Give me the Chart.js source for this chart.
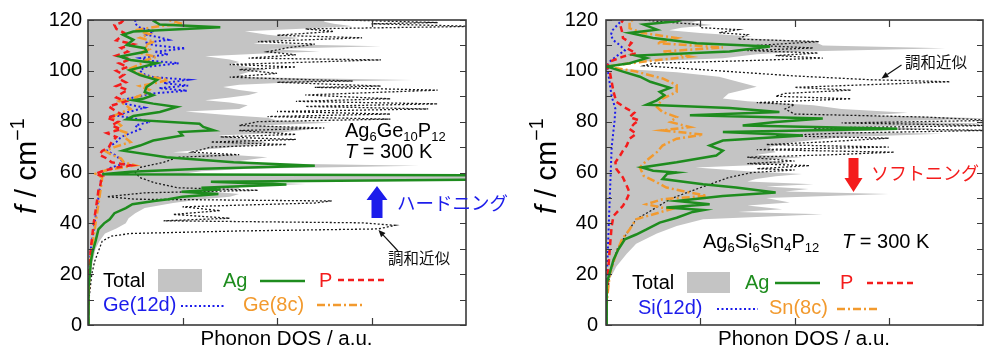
<!DOCTYPE html>
<html><head><meta charset="utf-8">
<script src="https://cdn.jsdelivr.net/npm/chart.js@4"></script>
<style>
html,body{margin:0;padding:0;background:#fff;}
#wrap{position:relative;width:984px;height:347px;overflow:hidden;background:#fff;}
canvas{position:absolute;top:0;}
#c1{left:0;}
#c2{left:490px;}
</style></head><body>
<div id="wrap">
<canvas id="c1" width="530" height="347"></canvas>
<canvas id="c2" width="494" height="347"></canvas>
</div>
<script>
// ---------- tick / axis text ----------
const xAxisTitle = 'Phonon DOS / a.u.';
const yMinorTicks = [0,10,20,30,40,50,60,70,80,90,100,110,120];
const xTickMarks = [1,2,3];

// ---------- Ag6Ge10P12 panel (frequency f / cm-1 , DOS in a.u.) ----------
const geTotalF = [0,10,15,20,25,30,33,36,38,40,42,44,46,48,49.5,50.5,51.5,52.5,53.3,54.3,55.5,56.4,57.2,58.9,59.5,60.5,61.5,62.7,63.6,64.5,66,67,68,69.5,70.5,72,73,74.6,75.5,77.4,78.5,79.6,80.5,81.5,82.5,84,85,86.5,87.5,88.4,89.5,90.5,91.5,92.5,93.6,94.5,95.5,96.4,97.5,98.5,99.5,100.5,101.5,102.5,103.5,104.5,105.7,106.7,107.6,108.6,109.7,110.7,111.5,112.9,114.2,115.6,116.5,117.5,118.5,119.3,120];
const geTotalV = [0,0.01,0.02,0.03,0.05,0.08,0.12,0.18,0.3,0.4,0.43,0.5,0.6,0.9,1.2,1.5,1.6,1.3,1.6,1.6,2.3,1.7,4.3,4.3,1.0,1.2,1.7,3.5,1.8,1.6,1.9,1.5,0.9,1.4,1.7,1.9,1.7,1.38,2.0,2.43,1.8,2.58,2.0,1.9,1.5,1.03,1.6,1.69,1.5,1.24,1.5,1.7,1.8,1.6,1.43,1.6,2.2,3.43,1.7,1.6,1.7,1.9,1.7,1.5,1.6,1.5,1.24,1.8,2.45,1.9,3.1,1.75,1.9,2.24,1.9,1.66,2.2,2.8,2.6,2.5,2.5];

const geAgF = [0,5,10,15,20,25,29,33,37.6,40,41.6,44,46,47.5,48.8,49.5,50.5,51.5,52.4,53.3,54,55.3,56.4,57.2,58.9,59.3,60.3,61.5,62.7,64,66,68.6,70.6,72.6,74.6,75.9,76.6,77.9,79.2,80.9,82.2,83.8,85.8,87.1,88.4,89.1,90.4,91.7,93.7,96.4,98.3,100.3,103,104.3,105.6,107.6,108.9,110.2,112.2,114.2,115.5,117.1,118.2,119.5,120];
const geAgV = [0,0.003,0.006,0.01,0.02,0.03,0.05,0.08,0.11,0.17,0.23,0.28,0.4,0.47,0.7,0.85,1.0,1.38,0.99,1.4,1.2,2.1,1.3,4.3,4.3,0.15,0.45,1.2,2.4,1.54,0.83,0.37,0.55,0.69,1.0,0.97,1.33,1.22,1.18,0.41,0.48,0.76,0.94,0.69,0.48,0.59,0.69,0.6,0.62,0.73,0.55,0.44,0.73,0.45,0.34,0.62,0.6,0.41,0.48,0.37,0.48,1.4,0.76,0.7,0.72];

const gePF = [0,10,20,30,40,45,50,53,55,57,58.5,59.5,60.5,62,62.8,64,65.5,67,68.5,70,72,74,75.5,77,78.5,80,81.5,83,84.5,86,88,89.5,91,92.5,94,95.5,97,98.5,100,101.5,103,104.5,106,107.5,109,110.5,112,113.5,115,116.5,118,119,120];
const gePV = [0,0.005,0.01,0.03,0.06,0.08,0.1,0.11,0.13,0.14,0.16,0.08,0.15,0.3,0.45,0.25,0.2,0.12,0.15,0.22,0.25,0.3,0.2,0.35,0.25,0.32,0.2,0.35,0.28,0.22,0.4,0.3,0.35,0.42,0.3,0.4,0.32,0.38,0.3,0.42,0.33,0.45,0.3,0.42,0.35,0.48,0.3,0.35,0.38,0.3,0.28,0.35,0.38];

const ge12dF = [0,10,20,30,40,45,50,55,58,60,62,63.5,65,67,68.5,70,72,74,75.5,77,78.5,80,81.5,82.5,84,85.5,87,88.5,90,91,92.2,93.2,94.2,95.2,96.5,97.5,98.5,100,101.5,103,104,105,106.5,107.5,108.8,110,111,112.2,113.2,114.2,115.5,117,118.5,120];
const ge12dV = [0,0.005,0.01,0.03,0.07,0.09,0.11,0.13,0.14,0.15,0.25,0.38,0.35,0.28,0.2,0.22,0.3,0.35,0.45,0.55,0.5,0.66,0.45,0.28,0.45,0.6,0.4,0.35,0.55,0.65,1.05,0.75,1.06,0.8,1.06,0.7,0.6,0.55,0.6,0.96,0.65,0.55,0.85,0.7,1.03,0.72,0.6,0.85,0.75,0.62,0.7,0.55,0.5,0.5];

const ge8cF = [0,10,20,30,40,45,50,55,58,59.5,61,62.8,64,65.5,67,68.5,70,72,74,75.5,77,78.5,80,82,83.5,85,86.5,88,89.5,91,92.5,94,95.5,96.5,98,99.5,101,102.5,104,105.5,107,108.5,110,111.5,113,114.5,116,117.5,118.5,119.5,120];
const ge8cV = [0,0.005,0.015,0.04,0.08,0.1,0.12,0.14,0.15,0.08,0.2,0.5,0.38,0.35,0.25,0.18,0.28,0.45,0.38,0.42,0.3,0.35,0.3,0.25,0.35,0.45,0.4,0.33,0.5,0.6,0.65,0.55,0.75,0.85,0.6,0.5,0.45,0.55,0.6,0.72,0.55,0.65,0.6,0.7,0.55,0.65,0.5,0.75,1.0,0.9,0.85];

const geHarmF = [0,10,20,25,30,33,35,36,37,37.8,39.2,40.2,41,42,43.5,45,46.5,48,48.8,49.5,50.5,52,53,54,56,58,60,62,64,66,67,68,70,71,72,73,74,75,76.5,77.5,78.5,80,81,82,83,84,85,86,87,88,89,90.5,92.4,93.5,94,95.5,96,97.5,99,100.5,101.5,102.5,104.3,105,106.3,107.5,109,110.5,111.5,113,114,115.5,116.5,117.5,118.5,119,120];
const geHarmV = [0,0.01,0.04,0.07,0.12,0.15,0.25,0.45,1.6,3.07,3.25,2.9,0.8,1.5,0.9,1.4,1.0,2.4,2.58,0.5,0.2,0.6,1.8,0.95,0.7,0.55,0.5,0.55,0.8,0.95,1.6,1.1,1.3,2.1,1.3,2.2,1.4,2.2,1.6,2.5,1.6,1.8,3.2,1.9,3.2,2.0,3.6,2.3,3.7,2.2,3.2,2.3,3.7,2.4,3.1,2.0,2.8,1.5,2.0,1.6,2.2,1.5,3.1,1.7,2.2,1.9,2.1,2.4,1.8,2.9,2.0,2.6,2.3,4.1,3.0,3.7,2.7];

// ---------- Ag6Si6Sn4P12 panel ----------
const snTotalF = [0,10,18,23,28,32,36,39,41.6,43.6,44.5,45.5,47,48.2,50,51.5,52.5,53.5,54.5,55.4,56.5,57.4,58.5,59.4,60.5,62,63.4,65,66,67,68,70,72,73.9,75.2,76,77.2,78,79.2,80.2,81.2,82.5,83.5,85,86.5,88,89.1,91.1,93.7,95.7,97.7,99.4,101,102,103,103.6,105,106.5,107.6,108.9,110,111.6,112.9,113.5,114.9,116,117,118,119,120];
const snTotalV = [0,0.01,0.04,0.11,0.22,0.32,0.54,0.75,1.03,2.3,1.4,1.87,1.5,1.95,1.7,3.0,1.9,2.15,1.7,2.2,1.5,1.59,1.8,2.08,1.5,0.95,1.94,1.7,2.08,1.6,1.8,1.73,2.0,2.5,3.57,2.5,3.5,2.8,4.1,3.0,4.1,2.8,3.2,2.5,2.2,1.5,1.24,1.3,1.6,1.4,1.2,0.75,0.08,0.02,0.2,0.36,1.24,1.6,2.08,3.6,2.3,2.2,1.4,1.55,1.0,0.67,0.8,1.13,0.9,1.03];

const snAgF = [0,10,16.5,20.5,25.7,29.7,33.7,35.6,37.6,40.3,42.2,44.5,45.2,46.2,47.5,48.8,50.8,52.1,54.1,55.4,57.4,59.5,60,60.7,62,64,66.7,68.6,70.6,72.6,74.6,75.9,77.2,78.5,79.9,81.2,82.5,83.8,85.4,86.7,88.4,90.4,91.7,93.3,95.7,97.7,99.7,101.7,103,105,106,107.6,109.6,110.9,112.9,114.9,116.2,118.2,119.5,120];
const snAgV = [0,0.005,0.01,0.04,0.08,0.13,0.2,0.32,0.43,0.57,0.75,0.92,1.03,0.64,1.1,0.75,1.24,1.8,1.38,1.03,0.6,0.65,0.75,0.5,0.38,0.75,1.17,1.24,1.1,1.24,2.09,1.24,3.09,1.45,1.8,2.3,0.89,1.84,1.31,0.43,0.54,0.62,0.57,0.68,0.47,0.36,0.18,0.01,0.25,0.43,0.32,1.31,1.74,0.96,0.5,0.25,0.54,0.4,0.75,0.8];

const snPF = [0,10,20,30,38.9,42.9,46.9,49.5,52.1,54.8,58,61.4,64,66.7,68.6,70.6,73.3,75.2,77.2,79.2,80.5,81.8,83.5,85.1,87.8,91.7,95.7,99.7,101.7,103.6,105.6,106.9,108.9,110.9,112.9,115.5,118.2,120];
const snPV = [0,0.005,0.02,0.04,0.06,0.08,0.18,0.22,0.25,0.22,0.18,0.11,0.1,0.15,0.18,0.22,0.25,0.32,0.25,0.3,0.35,0.25,0.3,0.22,0.11,0.08,0.06,0.04,0.01,0.04,0.18,0.32,0.22,0.27,0.18,0.17,0.15,0.18];

const si12dF = [0,20,40,50,60,70,80,85,90,95,100,102,104,106,108,110,112,114,116,118,120];
const si12dV = [0,0.01,0.03,0.04,0.05,0.06,0.09,0.1,0.06,0.04,0.02,0.01,0.05,0.12,0.2,0.15,0.08,0.05,0.07,0.12,0.17];

const sn8cF = [0,10,20,28.4,33.7,37.6,41.6,45.5,47.5,49.5,50.8,52.8,54.1,56.1,58.7,62,64.7,68,70.6,73.3,74.9,76.6,77.9,79.9,81.8,83.8,85.8,89.1,91.7,94.4,97,99.7,101.7,103.6,105.6,107.6,109.2,110.9,112.9,114.9,116.8,119.5,120];
const sn8cV = [0,0.01,0.04,0.11,0.17,0.25,0.32,0.68,0.43,0.6,1.07,0.8,0.64,0.54,0.4,0.36,0.43,0.54,0.6,0.75,1.03,0.6,0.89,0.68,0.75,0.6,0.54,0.6,0.75,0.75,0.6,0.32,0.01,0.39,0.89,0.6,1.24,0.54,0.75,0.39,0.25,0.25,0.29];

const snHarmF = [0,10,20,30,36,41.6,45.5,49.5,52,54,56,58,60,61,61.5,62.7,63.5,64.5,66,67,68,69,70,71,72,73.5,74.5,75.5,76.6,77.5,78.5,79.5,80.5,81.8,83,85,86.7,87.5,89,90,91.1,92.4,93.5,95.7,96.5,98,100,102,103,104,105,106,107,108,109,110,111.5,112.5,114.2,115,116.2,117,118.2,119,120];
const snHarmV = [0,0.01,0.04,0.12,0.22,0.32,0.5,0.68,0.85,1.0,1.15,1.3,1.55,2.0,1.6,2.16,1.5,2.0,1.5,2.4,3.06,1.6,3.0,1.7,2.3,3.0,1.8,2.5,4.1,2.2,4.1,2.5,4.1,3.4,2.0,1.9,2.0,1.6,2.6,1.8,1.9,2.6,2.0,3.65,2.8,2.0,1.2,0.4,0.5,1.5,2.3,1.8,2.25,1.5,2.2,1.6,2.26,1.4,1.5,1.2,1.4,1.0,1.0,0.7,0.4];

// ---------- styles ----------
const LAT = '"Liberation Sans", Arial, Helvetica, sans-serif';
const JP = '"Noto Sans CJK JP", "Noto Sans CJK SC", sans-serif';
const C_GREEN = '#1e8c1e', C_RED = '#f41c1c', C_BLUE = '#1c1ceb', C_ORANGE = '#f29a2e', C_GRAY = '#c4c4c4';
const STY = {
  total: {backgroundColor: C_GRAY, borderColor: 'rgba(0,0,0,0)', borderWidth: 0, fill: 'origin', order: 10},
  harm:  {borderColor: '#1a1a1a', borderWidth: 1.3, borderDash: [2, 2], fill: false, order: 9},
  s12:   {borderColor: C_BLUE, borderWidth: 2, borderDash: [2, 2.5], fill: false, order: 5},
  s8:    {borderColor: C_ORANGE, borderWidth: 2.5, borderDash: [8, 3, 2, 3], fill: false, order: 4},
  p:     {borderColor: C_RED, borderWidth: 2.5, borderDash: [6, 4], fill: false, order: 3},
  ag:    {borderColor: C_GREEN, borderWidth: 2.5, fill: false, order: 1}
};
function ds(label, F, V, sty) {
  const n = Math.min(F.length, V.length);
  const data = [];
  for (let i = 0; i < n; i++) data.push({x: V[i], y: F[i]});
  return Object.assign({label, data, pointRadius: 0, pointHoverRadius: 0, pointHitRadius: 0, tension: 0}, sty);
}

const geSets = [
  ds('Total', geTotalF, geTotalV, STY.total),
  ds('調和近似', geHarmF, geHarmV, STY.harm),
  ds('Ge(12d)', ge12dF, ge12dV, STY.s12),
  ds('Ge(8c)', ge8cF, ge8cV, STY.s8),
  ds('P', gePF, gePV, STY.p),
  ds('Ag', geAgF, geAgV, STY.ag)
];
const snSets = [
  ds('Total', snTotalF, snTotalV, STY.total),
  ds('調和近似', snHarmF, snHarmV, STY.harm),
  ds('Si(12d)', si12dF, si12dV, STY.s12),
  ds('Sn(8c)', sn8cF, sn8cV, STY.s8),
  ds('P', snPF, snPV, STY.p),
  ds('Ag', snAgF, snAgV, STY.ag)
];

// ---------- annotations (canvas pixel positions) ----------
const ANNOT = {
  c1: {
    ytitle: {cx: 28, y0: 214},
    xtitle: {cx: 286.5, cy: 339.5},
    items: [
      {type:'rich', x:345, y:137, size:20, color:'#000', runs:[{t:'Ag'},{t:'6',sub:1},{t:'Ge'},{t:'10',sub:1},{t:'P'},{t:'12',sub:1}]},
      {type:'rich', x:345, y:158, size:20, color:'#000', runs:[{t:'T',it:1},{t:' = 300 K'}]},
      {type:'block', x:377, yTail:218, yTip:186, shaftW:11, headW:21, headL:14, color:C_BLUE},
      {type:'text', x:397, y:203, size:18.5, font:JP, color:C_BLUE, text:'ハードニング'},
      {type:'text', x:388, y:258, size:15.5, font:JP, color:'#111', text:'調和近似'},
      {type:'arrow', x1:398, y1:251, x2:378.5, y2:230},
      {type:'text', x:103, y:281, size:20, font:LAT, color:'#000', text:'Total'},
      {type:'box', ds:0, x1:158, x2:202, y1:269, y2:292},
      {type:'text', x:223, y:281, size:20, font:LAT, color:C_GREEN, text:'Ag'},
      {type:'swatch', ds:5, x1:260, x2:305, y:281},
      {type:'text', x:319, y:281, size:20, font:LAT, color:C_RED, text:'P'},
      {type:'swatch', ds:4, x1:338, x2:385, y:280},
      {type:'text', x:103, y:305, size:20, font:LAT, color:C_BLUE, text:'Ge(12d)'},
      {type:'swatch', ds:2, x1:181, x2:225, y:306},
      {type:'text', x:243, y:305, size:20, font:LAT, color:C_ORANGE, text:'Ge(8c)'},
      {type:'swatch', ds:3, x1:317, x2:362, y:305}
    ]
  },
  c2: {
    ytitle: {cx: 57.5, y0: 214},
    xtitle: {cx: 314, cy: 339.5},
    items: [
      {type:'rich', x:213, y:248, size:20, color:'#000', runs:[{t:'Ag'},{t:'6',sub:1},{t:'Si'},{t:'6',sub:1},{t:'Sn'},{t:'4',sub:1},{t:'P'},{t:'12',sub:1}]},
      {type:'rich', x:352, y:248, size:20, color:'#000', runs:[{t:'T',it:1},{t:' = 300 K'}]},
      {type:'block', x:363.5, yTail:158, yTip:192, shaftW:10, headW:18, headL:14, color:C_RED},
      {type:'text', x:381, y:173, size:18, font:JP, color:C_RED, text:'ソフトニング'},
      {type:'text', x:415, y:62, size:15.5, font:JP, color:'#111', text:'調和近似'},
      {type:'arrow', x1:411.5, y1:65, x2:391.5, y2:78.5},
      {type:'text', x:142, y:283, size:20, font:LAT, color:'#000', text:'Total'},
      {type:'box', ds:0, x1:197, x2:240, y1:272, y2:293},
      {type:'text', x:255, y:283, size:20, font:LAT, color:C_GREEN, text:'Ag'},
      {type:'swatch', ds:5, x1:285, x2:330, y:283},
      {type:'text', x:350, y:283, size:20, font:LAT, color:C_RED, text:'P'},
      {type:'swatch', ds:4, x1:377, x2:423, y:283},
      {type:'text', x:148, y:308, size:20, font:LAT, color:C_BLUE, text:'Si(12d)'},
      {type:'swatch', ds:2, x1:227, x2:268, y:309},
      {type:'text', x:279, y:308, size:20, font:LAT, color:C_ORANGE, text:'Sn(8c)'},
      {type:'swatch', ds:3, x1:347, x2:388, y:309}
    ]
  }
};

function drawRuns(ctx, runs, x, y, size, color) {
  for (const r of runs) {
    const s = (r.sub || r.sup) ? size * 0.65 : size;
    ctx.font = (r.it ? 'italic ' : '') + s + 'px ' + LAT;
    ctx.fillStyle = color;
    const dy = r.sub ? size * 0.22 : (r.sup ? -size * 0.32 : 0);
    ctx.fillText(r.t, x, y + dy);
    x += ctx.measureText(r.t).width;
  }
}

const framePlugin = {
  id: 'frameTicks',
  afterDatasetsDraw(chart) {
    const {ctx, chartArea: a, scales: {x, y}} = chart;
    ctx.save();
    ctx.strokeStyle = '#3a3a3a';
    ctx.lineWidth = 1.2;
    ctx.beginPath();
    yMinorTicks.forEach(v => {
      const p = Math.round(y.getPixelForValue(v)) + 0.5;
      ctx.moveTo(a.left, p); ctx.lineTo(a.left + 6, p);
      ctx.moveTo(a.right, p); ctx.lineTo(a.right - 6, p);
    });
    xTickMarks.forEach(v => {
      const p = Math.round(x.getPixelForValue(v)) + 0.5;
      ctx.moveTo(p, a.bottom); ctx.lineTo(p, a.bottom - 7);
      ctx.moveTo(p, a.top); ctx.lineTo(p, a.top + 7);
    });
    ctx.stroke();
    ctx.lineWidth = 1.6;
    ctx.strokeRect(a.left, a.top, a.right - a.left, a.bottom - a.top);
    ctx.restore();
  }
};

const annotPlugin = {
  id: 'panelAnnot',
  afterDraw(chart) {
    const cfg = ANNOT[chart.canvas.id];
    if (!cfg) return;
    const ctx = chart.ctx;
    ctx.save();
    // y axis title (rotated): f / cm^-1
    const t = cfg.ytitle;
    ctx.save();
    ctx.translate(t.cx, t.y0);
    ctx.rotate(-Math.PI / 2);
    ctx.textBaseline = 'middle';
    ctx.textAlign = 'left';
    drawRuns(ctx, [{t:'f', it:1}, {t:' / cm'}, {t:'\u22121', sup:1}], 0, 0, 30, '#000');
    ctx.restore();
    // x axis title
    ctx.save();
    ctx.font = '20.5px ' + LAT;
    ctx.fillStyle = '#000';
    ctx.textAlign = 'center';
    ctx.textBaseline = 'middle';
    ctx.fillText(xAxisTitle, cfg.xtitle.cx, cfg.xtitle.cy);
    ctx.restore();

    for (const it of cfg.items) {
      ctx.save();
      if (it.type === 'rich') {
        ctx.textBaseline = 'alphabetic'; ctx.textAlign = 'left';
        drawRuns(ctx, it.runs, it.x, it.y, it.size, it.color);
      } else if (it.type === 'text') {
        ctx.textBaseline = 'middle'; ctx.textAlign = 'left';
        ctx.font = it.size + 'px ' + it.font;
        ctx.fillStyle = it.color;
        ctx.fillText(it.text, it.x, it.y);
      } else if (it.type === 'block') {
        const dir = Math.sign(it.yTip - it.yTail);
        const yb = it.yTip - dir * it.headL;
        ctx.fillStyle = it.color;
        ctx.beginPath();
        ctx.moveTo(it.x - it.shaftW / 2, it.yTail);
        ctx.lineTo(it.x - it.shaftW / 2, yb);
        ctx.lineTo(it.x - it.headW / 2, yb);
        ctx.lineTo(it.x, it.yTip);
        ctx.lineTo(it.x + it.headW / 2, yb);
        ctx.lineTo(it.x + it.shaftW / 2, yb);
        ctx.lineTo(it.x + it.shaftW / 2, it.yTail);
        ctx.closePath();
        ctx.fill();
      } else if (it.type === 'arrow') {
        ctx.strokeStyle = '#111'; ctx.fillStyle = '#111'; ctx.lineWidth = 1.2;
        const ang = Math.atan2(it.y2 - it.y1, it.x2 - it.x1);
        const hl = 7, hw = 3;
        const bx = it.x2 - hl * Math.cos(ang), by = it.y2 - hl * Math.sin(ang);
        ctx.beginPath(); ctx.moveTo(it.x1, it.y1); ctx.lineTo(bx, by); ctx.stroke();
        ctx.beginPath();
        ctx.moveTo(it.x2, it.y2);
        ctx.lineTo(bx + hw * Math.sin(ang), by - hw * Math.cos(ang));
        ctx.lineTo(bx - hw * Math.sin(ang), by + hw * Math.cos(ang));
        ctx.closePath(); ctx.fill();
      } else if (it.type === 'box') {
        ctx.fillStyle = chart.data.datasets[it.ds].backgroundColor;
        ctx.fillRect(it.x1, it.y1, it.x2 - it.x1, it.y2 - it.y1);
      } else if (it.type === 'swatch') {
        const d = chart.data.datasets[it.ds];
        ctx.strokeStyle = d.borderColor;
        ctx.lineWidth = d.borderWidth;
        ctx.setLineDash(d.borderDash || []);
        ctx.beginPath(); ctx.moveTo(it.x1, it.y); ctx.lineTo(it.x2, it.y); ctx.stroke();
      }
      ctx.restore();
    }
    ctx.restore();
  }
};

function makeChart(id, datasets, axisW, padRight, tickPad) {
  return new Chart(document.getElementById(id), {
    type: 'line',
    data: {datasets},
    plugins: [framePlugin, annotPlugin],
    options: {
      responsive: false,
      animation: false,
      indexAxis: 'y',
      events: [],
      layout: {padding: {left: 0, top: 20, right: padRight, bottom: 0}},
      plugins: {legend: {display: false}, tooltip: {enabled: false}},
      scales: {
        x: {
          type: 'linear', min: 0, max: 4,
          grid: {display: false, drawTicks: false}, border: {display: false},
          ticks: {display: false},
          title: {display: false, text: xAxisTitle},
          afterFit(s) { s.height = 22; }
        },
        y: {
          type: 'linear', min: 0, max: 120,
          grid: {display: false, drawTicks: false}, border: {display: false},
          ticks: {stepSize: 20, color: '#000', font: {family: LAT, size: 20}, padding: tickPad},
          afterFit(s) { s.width = axisW; }
        }
      }
    }
  });
}

makeChart('c1', geSets, 88, 64, 6);
makeChart('c2', snSets, 116, 1, 8);
</script>
</body></html>
